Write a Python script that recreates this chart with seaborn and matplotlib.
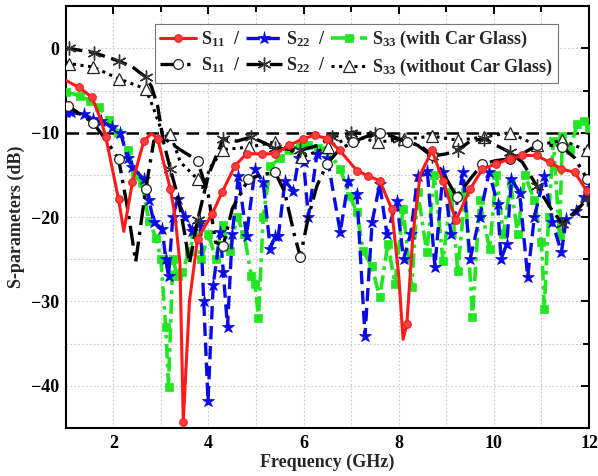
import matplotlib
matplotlib.use("Agg")
import matplotlib.pyplot as plt
import seaborn as sns
import numpy as np
from matplotlib.lines import Line2D
from matplotlib.ticker import MultipleLocator

# ---------------- data ----------------
red_f = [1.0, 1.27, 1.55, 1.74, 1.84, 1.95, 2.11, 2.22, 2.4, 2.64, 2.8, 2.93, 3.2, 3.3, 3.4, 3.47,
         3.6, 3.77, 4.08, 4.29, 4.56, 4.8, 5.12, 5.4, 5.7, 5.99, 6.24, 6.49, 6.76, 7.12, 7.35, 7.6,
         7.85, 8.0, 8.09, 8.17, 8.3, 8.45, 8.7, 8.93, 9.2, 9.5, 9.76, 10.05, 10.33, 10.6, 10.9,
         11.17, 11.42, 11.7, 11.95, 12.0]
red_db = [-3.8, -4.6, -5.8, -8.5, -10.5, -13.5, -17.9, -21.7, -15.9, -11.0, -10.1, -10.7, -16.7, -20.0, -25.5, -44.3,
          -30.0, -22.6, -19.6, -17.0, -13.9, -12.5, -12.5, -12.5, -11.5, -10.7, -10.3, -10.7, -12.1, -14.5, -15.1, -15.7,
          -19.0, -27.0, -34.5, -32.7, -22.0, -15.0, -12.1, -15.7, -20.4, -16.7, -14.3, -13.7, -13.1, -12.7, -12.7,
          -13.5, -14.3, -14.7, -16.9, -17.2]

blue_f = [1.0, 1.1, 1.38, 1.57, 1.73, 1.98, 2.15, 2.3, 2.4, 2.64, 2.75, 2.85, 3.03, 3.1, 3.16, 3.25, 3.35,
          3.5, 3.66, 3.83, 3.9, 3.99, 4.1, 4.25, 4.31, 4.4, 4.5, 4.63, 4.8, 4.98, 5.15, 5.3, 5.4, 5.47,
          5.61, 5.78, 5.9, 6.0, 6.1, 6.28, 6.5, 6.77, 6.94, 7.12, 7.29, 7.44, 7.6, 7.75, 7.96, 8.1, 8.25,
          8.4, 8.6, 8.76, 8.93, 9.1, 9.35, 9.5, 9.7, 9.9, 10.08, 10.15, 10.27, 10.37, 10.54, 10.71, 10.85,
          11.06, 11.23, 11.42, 11.52, 11.73, 11.9, 12.0]
blue_db = [-7.5, -7.6, -7.8, -8.4, -8.6, -9.3, -10.0, -13.0, -14.1, -15.5, -18.0, -20.6, -21.4, -25.0, -27.0, -20.0, -17.9,
           -20.0, -21.6, -20.6, -30.0, -41.8, -28.0, -21.8, -26.5, -33.0, -22.0, -15.1, -22.2, -14.3, -15.9, -23.8, -22.2, -22.2,
           -15.7, -16.9, -13.0, -13.5, -20.0, -12.5, -13.0, -21.8, -15.7, -17.3, -34.1, -20.6, -16.1, -22.0, -18.1, -25.0, -22.0,
           -15.1, -14.5, -25.9, -14.7, -22.0, -14.7, -25.0, -20.0, -14.7, -18.5, -25.0, -23.2, -15.5, -17.1, -27.1, -20.0,
           -15.1, -20.6, -24.2, -20.2, -19.3, -17.6, -16.5]

green_f = [1.0, 1.3, 1.5, 1.7, 1.9, 2.1, 2.3, 2.45, 2.6, 2.75, 2.9, 3.0, 3.1, 3.16, 3.25, 3.35, 3.45, 3.6, 3.7,
           3.85, 4.0, 4.15, 4.3, 4.45, 4.6, 4.75, 4.9, 4.98, 5.05, 5.15, 5.3, 5.5, 5.7, 5.93, 6.1, 6.3, 6.5,
           6.77, 6.97, 7.12, 7.25, 7.43, 7.6, 7.77, 7.92, 8.09, 8.27, 8.4, 8.59, 8.75, 8.93, 9.1, 9.24, 9.4,
           9.55, 9.7, 9.91, 10.05, 10.2, 10.35, 10.5, 10.65, 10.85, 11.0, 11.06, 11.15, 11.25, 11.38, 11.44,
           11.6, 11.75, 11.9, 12.0]
green_db = [-5.2, -5.6, -6.2, -7.0, -8.5, -10.0, -12.0, -15.0, -16.0, -20.5, -22.5, -25.0, -33.0, -40.1, -25.0, -27.0,
            -26.5, -24.0, -22.0, -25.0, -22.0, -25.0, -21.0, -24.0, -20.0, -22.0, -27.0, -27.9, -32.0, -20.0, -14.0,
            -13.0, -12.0, -11.5, -11.5, -11.8, -12.0, -14.3, -17.5, -19.4, -24.0, -25.8, -29.5, -23.2, -27.9, -19.0,
            -28.3, -17.0, -24.2, -15.0, -25.2, -17.0, -26.4, -17.0, -31.9, -18.0, -23.8, -15.0, -22.0, -16.0, -22.0,
            -15.0, -18.0, -23.0, -30.9, -20.0, -11.0, -22.2, -10.4, -12.0, -9.0, -8.6, -9.5]

k11_f = [1.0, 1.04, 1.3, 1.57, 1.8, 2.11, 2.3, 2.47, 2.68, 2.85, 3.0, 3.4, 3.77, 4.0, 4.15, 4.31, 4.5, 4.84,
         5.1, 5.4, 5.6, 5.8, 5.93, 6.1, 6.28, 6.49, 6.75, 7.04, 7.3, 7.6, 7.9, 8.17, 8.45, 8.7, 8.95, 9.22,
         9.5, 9.76, 10.05, 10.33, 10.6, 10.9, 11.17, 11.44, 11.7, 11.96, 12.0]
k11_db = [-7.2, -6.8, -7.8, -8.8, -10.5, -13.1, -19.0, -25.3, -16.7, -11.0, -10.4, -12.0, -13.3, -17.5, -23.0, -23.4,
          -19.0, -15.5, -15.0, -14.7, -17.0, -22.0, -24.7, -20.0, -16.3, -13.7, -12.0, -11.1, -10.5, -10.0, -10.5,
          -11.1, -11.5, -12.7, -15.0, -17.6, -15.5, -13.7, -13.3, -13.1, -12.5, -11.5, -11.5, -11.7, -13.0, -15.5, -16.0]

k22_f = [1.0, 1.06, 1.59, 2.11, 2.4, 2.68, 2.8, 2.93, 3.05, 3.2, 3.37, 3.5, 3.6, 3.77, 4.0, 4.31, 4.6, 4.9,
         5.4, 5.93, 6.3, 6.6, 7.0, 7.5, 8.0, 8.4, 8.7, 9.0, 9.24, 9.5, 9.8, 10.05, 10.33, 10.6, 10.9, 11.2,
         11.44, 11.7, 11.95, 12.0]
k22_db = [0.0, 0.0, -0.5, -1.5, -2.2, -3.4, -4.5, -6.8, -11.0, -14.3, -17.9, -22.0, -25.5, -20.4, -15.0, -10.7,
          -11.0, -10.5, -11.8, -12.1, -11.5, -10.5, -10.0, -10.2, -10.8, -11.5, -12.8, -12.5, -12.1, -11.0, -10.7,
          -11.5, -12.3, -13.5, -16.3, -19.0, -20.8, -19.5, -17.9, -17.5]

k33_f = [1.0, 1.06, 1.57, 2.11, 2.68, 2.85, 3.06, 3.2, 3.41, 3.77, 3.87, 4.05, 4.31, 4.86, 5.4, 5.97,
         6.51, 7.04, 7.56, 8.1, 8.7, 9.24, 9.8, 10.33, 10.9, 11.44, 11.95, 12.0]
k33_db = [-1.6, -1.8, -2.2, -3.6, -4.8, -7.2, -10.5, -10.2, -13.5, -15.5, -16.5, -14.0, -12.0, -11.7, -11.1, -12.9,
          -11.7, -10.4, -11.1, -10.8, -10.4, -10.9, -10.5, -10.0, -11.5, -10.9, -12.1, -12.5]

ref_f = [1.0, 12.0]
ref_db = [-10.0, -10.0]

labels = ["S$_{11}$  /", "S$_{11}$  /", "S$_{22}$  /", "S$_{22}$  /",
          "S$_{33}$ (with Car Glass)", "S$_{33}$ (without Car Glass)"]

# which points carry a marker
red_marks = [1, 2, 4, 6, 8, 9, 11, 12, 15, 17, 18, 19, 20, 21, 22, 23, 24, 25, 26, 27, 28, 29, 30, 31, 32, 35] + list(range(38, 51))
k11_marks = [1, 3, 5, 8, 12, 15, 17, 19, 22, 25, 27, 29, 31, 33, 35, 37, 39, 41, 43, 45]
k22_marks = [1, 2, 3, 5, 9, 13, 15, 17, 18, 19, 21, 22, 23, 24, 26, 28, 30, 32, 34, 36, 38]
k33_marks = [1, 2, 3, 4, 7, 9] + list(range(12, 27))

# ---------------- style ----------------
sns.set_theme(style="white")
plt.rcParams["font.family"] = ["Liberation Serif", "DejaVu Serif"]
plt.rcParams["font.weight"] = "bold"
plt.rcParams["mathtext.fontset"] = "custom"
plt.rcParams["mathtext.rm"] = "Liberation Serif:bold"
plt.rcParams["mathtext.bf"] = "Liberation Serif:bold"
plt.rcParams["mathtext.it"] = "Liberation Serif:bold:italic"
plt.rcParams["mathtext.default"] = "rm"

RED = "#ff1a1a"
BLUE = "#0a0ae6"
GREEN = "#22e622"

fig = plt.figure(figsize=(5.98, 4.76), dpi=100)
ax = fig.add_axes([0.110, 0.101, 0.875, 0.886])

common = dict(ax=ax, sort=False, estimator=None, legend=False)

# reference line
sns.lineplot(x=ref_f, y=ref_db, color="black", lw=1.8, linestyle=(0, (5, 3)), zorder=2, **common)

green_style = dict(color=GREEN, lw=2.6, linestyle=(0, (4, 1.5, 1, 1.5)), marker="s", ms=5.5,
                   markerfacecolor=GREEN, markeredgecolor=GREEN, markeredgewidth=0.5)
blue_style = dict(color=BLUE, lw=2.4, linestyle=(0, (4, 2)), marker="*", ms=9.5,
                  markerfacecolor=BLUE, markeredgecolor=BLUE, markeredgewidth=0.5)
k33_style = dict(color="black", lw=2.2, linestyle=(0, (1, 1.5)), marker="^", ms=8,
                 markerfacecolor="white", markeredgecolor="#222222", markeredgewidth=0.9)
k22_style = dict(color="black", lw=2.4, linestyle=(0, (5, 2)), marker=(6, 2, 0), ms=10,
                 markerfacecolor="#333333", markeredgecolor="#333333", markeredgewidth=1.0)
k11_style = dict(color="black", lw=2.4, linestyle=(0, (6, 2, 1, 2)), marker="o", ms=7,
                 markerfacecolor="white", markeredgecolor="#222222", markeredgewidth=0.9)
red_style = dict(color=RED, lw=2.2, linestyle="-", marker="o", ms=5.5,
                 markerfacecolor="#ff4040", markeredgecolor=RED, markeredgewidth=0.8)

sns.lineplot(x=green_f, y=green_db, zorder=3, **green_style, **common)
sns.lineplot(x=blue_f, y=blue_db, zorder=4, **blue_style, **common)
sns.lineplot(x=k33_f, y=k33_db, zorder=5, markevery=k33_marks, **k33_style, **common)
sns.lineplot(x=k22_f, y=k22_db, zorder=5, markevery=k22_marks, **k22_style, **common)
sns.lineplot(x=k11_f, y=k11_db, zorder=5, markevery=k11_marks, **k11_style, **common)
sns.lineplot(x=red_f, y=red_db, zorder=6, markevery=red_marks, **red_style, **common)

# ---------------- axes ----------------
ax.set_xlim(1, 12)
ax.set_ylim(-45, 5)
ax.xaxis.set_major_locator(MultipleLocator(2))
ax.xaxis.set_minor_locator(MultipleLocator(1))
ax.yaxis.set_major_locator(MultipleLocator(10))
ax.yaxis.set_minor_locator(MultipleLocator(5))
ax.grid(True, which="both", color="#c8c8c8", linestyle=(0, (1.5, 2)), lw=0.8)
ax.set_axisbelow(True)
ax.tick_params(which="both", direction="in", top=True, right=True, width=1.4, colors="black")
ax.tick_params(which="major", length=6, labelsize=13, pad=5)
ax.tick_params(which="minor", length=4)
for lab in ax.get_xticklabels() + ax.get_yticklabels():
    lab.set_fontweight("bold")
for s in ax.spines.values():
    s.set_linewidth(1.5)
    s.set_color("black")

ax.set_xlabel("Frequency (GHz)", fontsize=13, fontweight="bold", labelpad=1)
ax.set_ylabel("S-parameters (dB)", fontsize=13, fontweight="bold", labelpad=4)

# ---------------- legend ----------------
def proxy(st):
    return Line2D([], [], **st)

handles = [proxy(red_style), proxy(k11_style), proxy(blue_style),
           proxy(k22_style), proxy(green_style), proxy(k33_style)]
leg = ax.legend(handles, labels, ncol=3, loc="upper left", bbox_to_anchor=(0.170, 0.958),
                fontsize=13, frameon=True, fancybox=False, framealpha=1, edgecolor="#777777",
                handlelength=2.0, handletextpad=0.25, columnspacing=0.3, labelspacing=0.35,
                borderpad=0.3, borderaxespad=0, markerscale=1.0)
leg.get_frame().set_linewidth(0.8)
for t in leg.get_texts():
    t.set_fontweight("bold")

fig.savefig("out.png", dpi=100)
